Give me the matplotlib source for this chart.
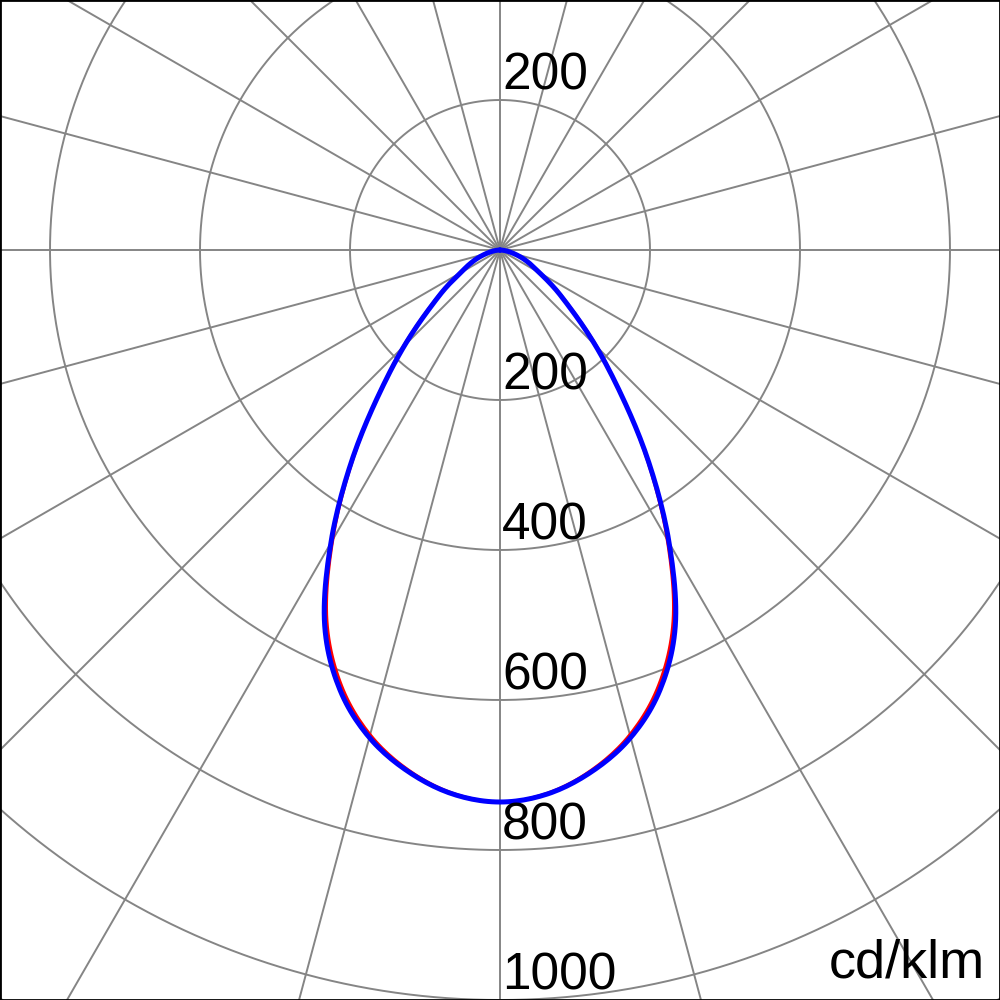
import numpy as np
import matplotlib.pyplot as plt

plt.rcParams['font.family'] = ['Liberation Sans', 'DejaVu Sans']

# Luminous intensity (cd/klm) vs gamma angle (deg), symmetric curves
gamma = [0, 5, 10, 15, 20, 25, 30, 35, 40, 45, 50, 55, 60, 65, 70, 75, 80, 85, 90]
blue_I = [736, 728, 706, 673, 624, 553, 451, 346, 251, 180, 125, 89, 61, 45, 32, 20, 11, 4, 0]
red_I = [736, 727, 704, 669, 618, 546, 446, 343, 252, 183, 128, 91, 62, 45, 32, 20, 11, 4, 0]

ring_values = [200, 400, 600, 800, 1000, 1200]
ring_labels = ['200', '400', '600', '800', '1000']
unit_label = 'cd/klm'

PX = 4.0 / 3.0  # cd/klm per pixel


def smooth_xy(g_deg, intensity, steps=12):
    # mirror around the downward axis (0 deg points down), then draw a
    # smooth (Catmull-Rom) curve through the read points
    g = np.concatenate([-np.array(g_deg[::-1]), np.array(g_deg[1:])]).astype(float)
    r = np.concatenate([np.array(intensity[::-1]), np.array(intensity[1:])]).astype(float)
    gp = np.concatenate([[g[0]], g, [g[-1]]])
    rp = np.concatenate([[r[0]], r, [r[-1]]])
    gs, rs = [], []
    s = np.linspace(0, 1, steps, endpoint=False)
    for i in range(1, len(gp) - 2):
        p0, p1, p2, p3 = rp[i - 1], rp[i], rp[i + 1], rp[i + 2]
        m1, m2 = (p2 - p0) / 2, (p3 - p1) / 2
        h00 = 2 * s**3 - 3 * s**2 + 1
        h10 = s**3 - 2 * s**2 + s
        h01 = -2 * s**3 + 3 * s**2
        h11 = s**3 - s**2
        rs.append(h00 * p1 + h10 * m1 + h01 * p2 + h11 * m2)
        gs.append(gp[i] + s * (gp[i + 1] - gp[i]))
    gs.append([gp[-2]])
    rs.append([rp[-2]])
    gs = np.radians(np.concatenate(gs))
    rs = np.clip(np.concatenate(rs), 0, None)
    return rs * np.sin(gs), -rs * np.cos(gs)


fig = plt.figure(figsize=(10, 10), dpi=100)
ax = fig.add_axes([0, 0, 1, 1])
ax.set_xlim(-500 * PX, 500 * PX)
ax.set_ylim(-750 * PX, 250 * PX)
ax.set_aspect('equal')
ax.set_xticks([])
ax.set_yticks([])
for sp in ax.spines.values():
    sp.set_color('black')
    sp.set_linewidth(2)

grid_col = '#858585'
t = np.linspace(0, 2 * np.pi, 721)
for rv in ring_values:
    ax.plot(rv * np.cos(t), rv * np.sin(t), color=grid_col, lw=1.4, zorder=1)
for k in range(24):
    a = np.radians(k * 15)
    ax.plot([0, 1400 * np.cos(a)], [0, 1400 * np.sin(a)], color=grid_col, lw=1.4, zorder=1)

xr, yr = smooth_xy(gamma, red_I)
ax.plot(xr, yr, color='#ff0000', lw=2.2, zorder=3, solid_joinstyle='round')
xb, yb = smooth_xy(gamma, blue_I)
ax.plot(xb, yb, color='#0000ff', lw=3.6, zorder=4, solid_joinstyle='round',
        solid_capstyle='round')

# ring labels along the downward axis, plus the first ring above
off = 10 * PX
ax.text(2 * PX, 200 + off, '200', fontsize=37, ha='left', va='baseline', zorder=5)
for rv, lab in zip(ring_values, ring_labels):
    ax.text(2 * PX, -rv + off, lab, fontsize=37, ha='left', va='baseline', zorder=5)

ax.text(485 * PX, -728 * PX, unit_label, fontsize=39, ha='right', va='baseline', zorder=5)

fig.savefig('out.png', dpi=100)
